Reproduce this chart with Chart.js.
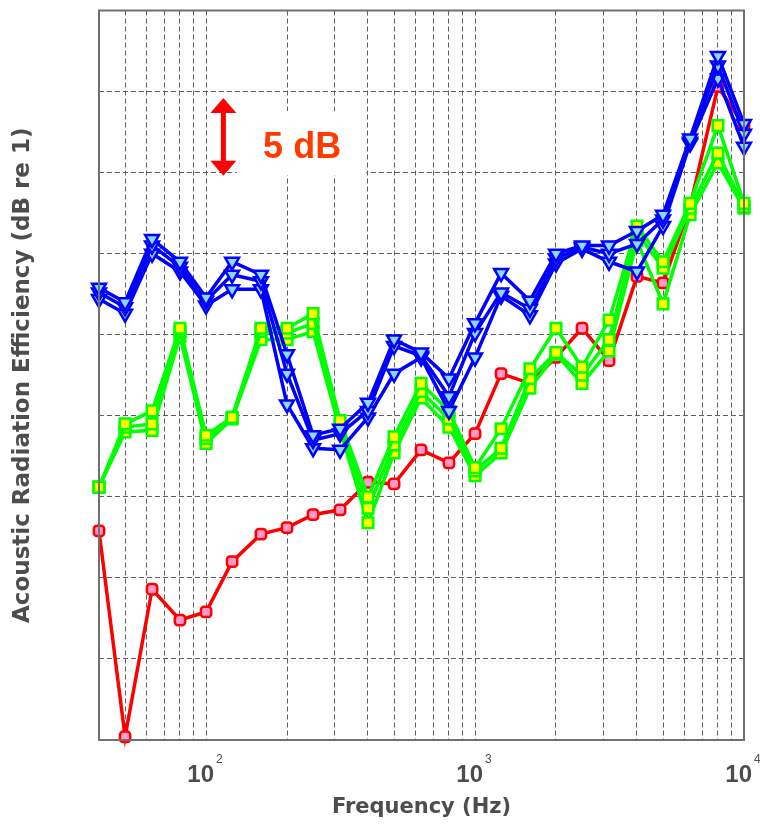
<!DOCTYPE html>
<html>
<head>
<meta charset="utf-8">
<script src="https://cdn.jsdelivr.net/npm/chart.js@4.4.1/dist/chart.umd.min.js"></script>
<style>
  html, body { margin: 0; padding: 0; background: #fff; }
  #chart { display: block; }
</style>
</head>
<body>
<canvas id="chart" width="760" height="826"></canvas>
<script>
// third-octave band centres (Hz)
const freqs = [40, 50, 63, 80, 100, 125, 160, 200, 250, 315, 400, 500, 630, 800, 1000, 1250, 1600, 2000, 2500, 3150, 4000, 5000, 6300, 8000, 10000];

// values in dB, 0 = bottom of the plot, 5 dB per grid line
const red    = [12.9, 0.2, 9.3, 7.4, 7.9, 11.0, 12.7, 13.1, 13.9, 14.2, 15.9, 15.8, 17.9, 17.1, 18.9, 22.6, 22.0, 23.6, 25.4, 23.4, 28.6, 28.2, 32.9, 40.3, 37.9];
const greenA = [15.6, 19.5, 20.3, 25.4, 18.8, 19.9, 25.4, 25.4, 26.3, 19.7, 15.0, 18.7, 22.0, 20.3, 16.8, 19.2, 22.9, 25.4, 23.0, 25.9, 31.7, 29.5, 33.1, 37.9, 33.1];
const greenB = [15.6, 19.3, 19.5, 25.2, 18.6, 19.9, 25.2, 25.1, 25.7, 19.4, 14.3, 18.2, 21.5, 19.8, 16.6, 18.0, 22.3, 23.9, 22.5, 24.7, 31.3, 29.1, 32.8, 36.2, 32.9];
const greenC = [15.6, 19.0, 19.1, 24.9, 18.3, 19.8, 24.7, 24.7, 25.2, 19.1, 13.4, 17.7, 21.1, 19.3, 16.3, 17.7, 21.7, 23.8, 22.0, 24.0, 30.8, 26.9, 32.4, 35.6, 32.8];
const blueA  = [27.9, 27.0, 30.9, 29.5, 27.3, 29.5, 28.7, 23.8, 18.8, 19.2, 20.8, 24.7, 23.9, 22.3, 25.7, 28.8, 27.1, 30.0, 30.5, 30.5, 31.4, 32.4, 37.1, 42.2, 38.0];
const blueB  = [27.6, 26.7, 30.5, 29.2, 27.1, 28.7, 28.3, 22.6, 18.5, 18.9, 20.3, 24.3, 23.7, 21.2, 25.1, 27.6, 26.6, 29.7, 30.4, 30.0, 30.6, 32.1, 36.9, 41.6, 37.4];
const blueC  = [27.2, 26.3, 30.0, 28.9, 26.8, 27.8, 27.8, 20.7, 18.0, 17.9, 19.9, 22.6, 23.6, 20.3, 23.6, 27.4, 26.2, 29.4, 30.3, 29.5, 28.9, 31.7, 36.8, 40.8, 36.6];

const xGridValues = [40, 50, 60, 70, 80, 90, 100, 200, 300, 400, 500, 600, 700, 800, 900, 1000, 2000, 3000, 4000, 5000, 6000, 7000, 8000, 9000, 10000];
const xLabelValues = [100, 1000, 10000];
const xLabelExponents = ['2', '3', '4'];

const textGrey = '#4d4d4d';
const gridGrey = '#606060';

function series(values, color, fill, style, radius, rotation) {
  return {
    data: freqs.map((f, i) => ({ x: f, y: values[i] })),
    borderColor: color,
    borderWidth: 3.5,
    pointStyle: style,
    pointRadius: radius,
    pointRotation: rotation,
    pointBackgroundColor: fill,
    pointBorderColor: color,
    pointBorderWidth: 2.5,
    tension: 0,
    clip: false
  };
}

// scale note ("5 dB" arrow) and frame, tick labels with superscripts
const decorations = {
  id: 'decorations',
  beforeDatasetsDraw(chart) {
    const { ctx, scales: { x, y } } = chart;
    ctx.save();
    // white box behind the note
    const bx0 = x.getPixelForValue(130), bx1 = x.getPixelForValue(394);
    const by0 = y.getPixelForValue(38.8), by1 = y.getPixelForValue(34.9);
    ctx.fillStyle = '#ffffff';
    ctx.fillRect(bx0, by0, bx1 - bx0, by1 - by0 + 1);

    // double arrow spanning 5 dB
    const ax = x.getPixelForValue(116);
    const top = y.getPixelForValue(39.6), bot = y.getPixelForValue(34.8);
    ctx.fillStyle = '#ff0000';
    ctx.fillRect(ax - 2.5, top + 12, 5, bot - top - 24);
    ctx.beginPath();
    ctx.moveTo(ax, top); ctx.lineTo(ax + 13, top + 15); ctx.lineTo(ax - 13, top + 15);
    ctx.closePath(); ctx.fill();
    ctx.beginPath();
    ctx.moveTo(ax, bot); ctx.lineTo(ax + 13, bot - 15); ctx.lineTo(ax - 13, bot - 15);
    ctx.closePath(); ctx.fill();

    ctx.fillStyle = '#ff3b00';
    ctx.font = 'bold 36px "Liberation Sans", Arial, sans-serif';
    ctx.textAlign = 'left';
    ctx.textBaseline = 'alphabetic';
    ctx.fillText('5 dB', x.getPixelForValue(163), y.getPixelForValue(35.9));
    ctx.restore();
  },
  afterDraw(chart) {
    const { ctx, chartArea: a, scales: { x } } = chart;
    ctx.save();
    ctx.strokeStyle = '#707070';
    ctx.lineWidth = 2;
    ctx.strokeRect(a.left, a.top, a.right - a.left, a.bottom - a.top);

    ctx.fillStyle = textGrey;
    ctx.textBaseline = 'alphabetic';
    xLabelValues.forEach((v, i) => {
      const px = x.getPixelForValue(v);
      ctx.font = 'bold 24px "Liberation Sans", Arial, sans-serif';
      ctx.textAlign = 'right';
      ctx.fillText('10', px + 8, a.bottom + 42);
      ctx.font = '12px "Liberation Sans", Arial, sans-serif';
      ctx.textAlign = 'left';
      ctx.fillText(xLabelExponents[i], px + 10, a.bottom + 23);
    });
    ctx.restore();
  }
};

const gridOpts = { color: gridGrey, lineWidth: 1, drawTicks: false };
const borderOpts = { display: false, dash: [5, 3] };

new Chart(document.getElementById('chart').getContext('2d'), {
  type: 'line',
  data: {
    datasets: [
      series(blueA, '#0000ff', '#88d8ff', 'triangle', 8, 180),
      series(blueB, '#0000ff', '#88d8ff', 'triangle', 8, 180),
      series(blueC, '#0000ff', '#88d8ff', 'triangle', 8, 180),
      series(greenA, '#00ff00', '#ffff00', 'rect', 7.5, 0),
      series(greenB, '#00ff00', '#ffff00', 'rect', 7.5, 0),
      series(greenC, '#00ff00', '#ffff00', 'rect', 7.5, 0),
      series(red, '#ff0000', '#ff99cc', 'rectRounded', 6, 0)
    ]
  },
  options: {
    responsive: false,
    animation: false,
    devicePixelRatio: 1,
    events: [],
    layout: { padding: { top: 9, right: 16, bottom: 0, left: 0 } },
    plugins: { legend: { display: false }, tooltip: { enabled: false } },
    scales: {
      x: {
        type: 'logarithmic',
        min: 40,
        max: 10000,
        afterBuildTicks: (s) => { s.ticks = xGridValues.map(v => ({ value: v })); },
        afterFit: (s) => { s.height = 86; },
        ticks: { display: false },
        grid: gridOpts,
        border: borderOpts,
        title: {
          display: true,
          text: 'Frequency (Hz)',
          color: textGrey,
          font: { family: '"DejaVu Sans", sans-serif', size: 21, weight: 'bold' },
          padding: { top: 0, bottom: 6 }
        }
      },
      y: {
        type: 'linear',
        min: 0,
        max: 45,
        afterFit: (s) => { s.width = 99; },
        ticks: { display: false, stepSize: 5 },
        grid: gridOpts,
        border: borderOpts,
        title: {
          display: true,
          text: 'Acoustic Radiation Efficiency (dB re 1)',
          color: textGrey,
          font: { family: '"DejaVu Sans", sans-serif', size: 23, weight: 'bold' },
          padding: { top: 9, bottom: 0 }
        }
      }
    }
  },
  plugins: [decorations]
});
</script>
</body>
</html>
